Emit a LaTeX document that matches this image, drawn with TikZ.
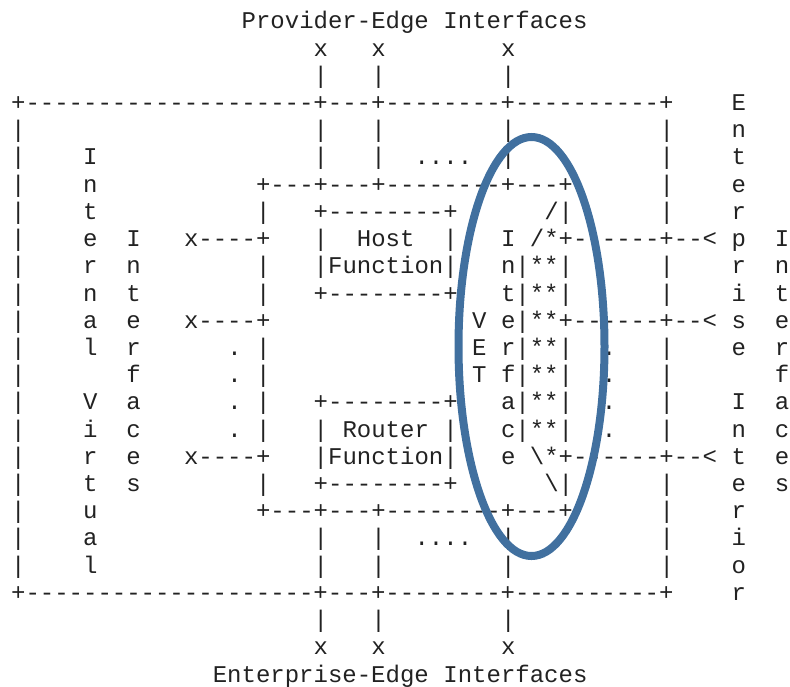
\documentclass[tikz,border=0pt]{standalone}
\usepackage{fontspec}
\setmonofont{Liberation Mono}
\usepackage{xcolor}
\usetikzlibrary{shapes.geometric}
\definecolor{vetblue}{HTML}{41709F}
\definecolor{ink}{HTML}{222222}

% grid of the ascii drawing (pt)
\def\ox{11.1}
\def\cw{14.41}
\def\oy{28.8}
\def\rh{27.22}
\newcommand{\asciirow}[2]{%
  \foreach \col/\txt in {#2} {\node[chr] (r#1c\col) at ({\ox+\col*\cw},{-\oy-#1*\rh}) {\txt};}}

\begin{document}
\begin{tikzpicture}[
  x=1pt, y=1pt,
  chr/.style={anchor=base west, inner sep=0pt, outer sep=0pt, text=ink, font=\ttfamily\fontsize{24}{24}\selectfont},
  ring/.style={draw=vetblue, line width=8pt}
]
\useasboundingbox (0,0) rectangle (790,-686);

\asciirow{0}{16/Provider-Edge, 30/Interfaces}
\asciirow{1}{21/x, 25/x, 34/x}
\asciirow{2}{21/|, 25/|, 34/|}
\asciirow{3}{0/+--------------------+---+--------+----------+, 50/E}
\asciirow{4}{0/|, 21/|, 25/|, 34/|, 45/|, 50/n}
\asciirow{5}{0/|, 5/I, 21/|, 25/|, 28/{....}, 34/|, 45/|, 50/t}
\asciirow{6}{0/|, 5/n, 17/+---+---+--------+---+, 45/|, 50/e}
\asciirow{7}{0/|, 5/t, 17/|, 21/+--------+, 37/{/|}, 45/|, 50/r}
\asciirow{8}{0/|, 5/e, 8/I, 12/x----+, 21/|, 24/Host, 30/|, 34/I, 36/{/*+------+--<}, 50/p, 53/I}
\asciirow{9}{0/|, 5/r, 8/n, 17/|, 21/|Function|, 34/n|**|, 45/|, 50/r, 53/n}
\asciirow{10}{0/|, 5/n, 8/t, 17/|, 21/+--------+, 34/t|**|, 45/|, 50/i, 53/t}
\asciirow{11}{0/|, 5/a, 8/e, 12/x----+, 32/V, 34/e|**+------+--<, 50/s, 53/e}
\asciirow{12}{0/|, 5/l, 8/r, 15/{.}, 17/|, 32/E, 34/r|**|, 41/{.}, 45/|, 50/e, 53/r}
\asciirow{13}{0/|, 8/f, 15/{.}, 17/|, 32/T, 34/f|**|, 41/{.}, 45/|, 53/f}
\asciirow{14}{0/|, 5/V, 8/a, 15/{.}, 17/|, 21/+--------+, 34/a|**|, 41/{.}, 45/|, 50/I, 53/a}
\asciirow{15}{0/|, 5/i, 8/c, 15/{.}, 17/|, 21/|, 23/Router, 30/|, 34/c|**|, 41/{.}, 45/|, 50/n, 53/c}
\asciirow{16}{0/|, 5/r, 8/e, 12/x----+, 21/|Function|, 34/e, 36/\textbackslash*+------+--<, 50/t, 53/e}
\asciirow{17}{0/|, 5/t, 8/s, 17/|, 21/+--------+, 37/\textbackslash|, 45/|, 50/e, 53/s}
\asciirow{18}{0/|, 5/u, 17/+---+---+--------+---+, 45/|, 50/r}
\asciirow{19}{0/|, 5/a, 21/|, 25/|, 28/{....}, 34/|, 45/|, 50/i}
\asciirow{20}{0/|, 5/l, 21/|, 25/|, 34/|, 45/|, 50/o}
\asciirow{21}{0/+--------------------+---+--------+----------+, 50/r}
\asciirow{22}{21/|, 25/|, 34/|}
\asciirow{23}{21/x, 25/x, 34/x}
\asciirow{24}{14/Enterprise-Edge, 30/Interfaces}

% highlight round the VET interface
\node[ring, ellipse, minimum width=146pt, minimum height=419pt, inner sep=0pt] (vet) at (531.5,-346.5) {};
\end{tikzpicture}
\end{document}
